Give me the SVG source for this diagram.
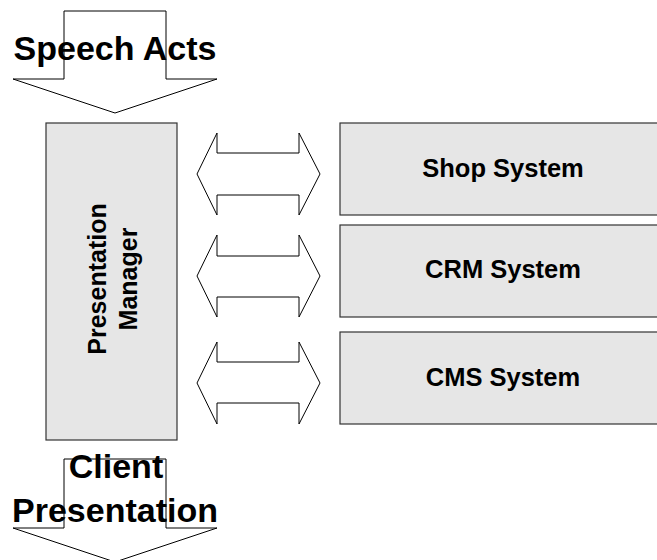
<svg xmlns="http://www.w3.org/2000/svg" width="657" height="560" viewBox="0 0 657 560">
<style>
.box{fill:#e6e6e6;stroke:#333;stroke-width:1.2}
.arr{fill:#fff;stroke:#000;stroke-width:1}
.big{font-family:"Liberation Sans",Arial,sans-serif;font-weight:bold;font-size:34px;fill:#000;text-anchor:middle}
.lbl{font-family:"Liberation Sans",Arial,sans-serif;font-weight:bold;font-size:25.5px;fill:#000;text-anchor:middle}
.pm{font-family:"Liberation Sans",Arial,sans-serif;font-weight:bold;font-size:25px;fill:#000;text-anchor:middle}
</style>
<g id="connectors">
<polygon id="arrow-speech" class="arr" points="64,11 166,11 166,79 217,79 115,113 13,79 64,79"/>
<polygon id="arrow-client" class="arr" points="64,459 166,459 166,528 217,528 115,562 13,528 64,528"/>
<polygon id="arrow-shop" class="arr" points="197,174 217,133 217,153 299,153 299,133 320,174 299,215 299,195 217,195 217,215"/>
<polygon id="arrow-crm" class="arr" points="197,276 217,235 217,256 299,256 299,235 320,276 299,317 299,297 217,297 217,317"/>
<polygon id="arrow-cms" class="arr" points="197,383 217,342 217,362 299,362 299,342 320,383 299,424 299,403 217,403 217,424"/>
</g>
<g id="speech-acts"><text class="big" x="115" y="60">Speech Acts</text></g>
<g id="client-presentation"><text class="big" x="116" y="478">Client</text><text class="big" x="115" y="522">Presentation</text></g>
<g id="presentation-manager">
<rect class="box" x="46" y="123" width="131" height="317"/>
<text class="pm" transform="translate(106,279) rotate(-90)">Presentation</text>
<text class="pm" transform="translate(137,279) rotate(-90)">Manager</text>
</g>
<g id="shop-system"><rect class="box" x="340" y="123" width="326" height="92"/><text class="lbl" x="503" y="177">Shop System</text></g>
<g id="crm-system"><rect class="box" x="340" y="225" width="326" height="92"/><text class="lbl" x="503" y="278">CRM System</text></g>
<g id="cms-system"><rect class="box" x="340" y="332" width="326" height="92"/><text class="lbl" x="503" y="386">CMS System</text></g>
</svg>
